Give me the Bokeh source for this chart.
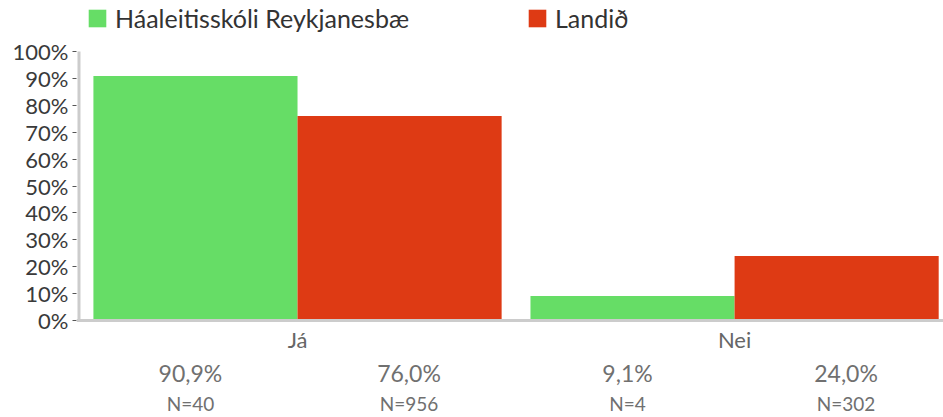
from bokeh.plotting import figure
from bokeh.models import ColumnDataSource, FixedTicker, Legend, LegendItem, Span
from bokeh.core.properties import value
from bokeh.embed import file_html
from bokeh.resources import INLINE

categories = ["Já", "Nei"]
series_names = ["Háaleitisskóli Reykjanesbæ", "Landið"]
school_pct = [90.9, 9.1]
country_pct = [76.0, 24.0]
school_n = [40, 4]
country_n = [956, 302]
y_ticks = [0, 10, 20, 30, 40, 50, 60, 70, 80, 90, 100]

GREEN = "#66DD66"
RED = "#DE3A14"
FONT = "Lato"
PX = 2.69
BW = 0.467

centers = [i + 0.5 for i in range(len(categories))]
xg = [c - BW / 2 for c in centers]
xr = [c + BW / 2 for c in centers]
lxg = [c - 0.245 for c in centers]
lxr = [c + 0.255 for c in centers]

def fmt(v):
    return f"{v:.1f}".replace(".", ",") + "%"

p = figure(width=943, height=417, output_backend="svg", toolbar_location=None,
           x_range=(-0.0057, 1.978), y_range=(-97 / PX, 100 + 51 / PX),
           min_border_left=76, min_border_right=0, min_border_top=0, min_border_bottom=0)
p.outline_line_color = None
p.xgrid.visible = False
p.ygrid.visible = False
p.xaxis.visible = False
p.background_fill_color = "white"

src_g = ColumnDataSource(dict(x=xg, lx=lxg, top=school_pct, lab=[fmt(v) for v in school_pct],
                              n=[f"N={n}" for n in school_n]))
src_r = ColumnDataSource(dict(x=xr, lx=lxr, top=country_pct, lab=[fmt(v) for v in country_pct],
                              n=[f"N={n}" for n in country_n]))

rg = p.vbar(x="x", top="top", bottom=0, width=BW, source=src_g, fill_color=GREEN, line_color=None)
rr = p.vbar(x="x", top="top", bottom=0, width=BW, source=src_r, fill_color=RED, line_color=None)

# axis lines
p.add_layout(Span(location=0, dimension="width", line_color="#CCCCCC", line_width=3))
p.segment(x0=[0], y0=[0], x1=[0], y1=[100], line_color="#CCCCCC", line_width=3)

# y axis
ya = p.yaxis[0]
ya.ticker = FixedTicker(ticks=y_ticks)
ya.major_label_overrides = {t: f"{t}%" for t in y_ticks}
ya.axis_line_color = None
ya.major_tick_out = 4
ya.major_tick_in = 0
ya.minor_tick_out = 0
ya.minor_tick_in = 0
ya.major_tick_line_color = "#555555"
ya.major_label_standoff = 4
ya.major_label_text_font = FONT
ya.major_label_text_font_size = "22px"
ya.major_label_text_color = "#3A3A3A"

# category labels and value labels below
src_c = ColumnDataSource(dict(x=centers, t=categories))
p.text(x="x", y=-6.9, text="t", source=src_c, text_align="center", text_baseline="middle",
       text_font=value(FONT), text_font_size="22px", text_color="#666666")
for s in (src_g, src_r):
    p.text(x="lx", y=-19.7, text="lab", source=s, text_align="center", text_baseline="middle",
           text_font=value(FONT), text_font_size="23px", text_color="#707070")
    p.text(x="lx", y=-31.0, text="n", source=s, text_align="center", text_baseline="middle",
           text_font=value(FONT), text_font_size="19px", text_color="#707070")

for r, name, loc in ((rg, series_names[0], (10, 384)), (rr, series_names[1], (450, 384))):
    lg = Legend(items=[LegendItem(label=name, renderers=[r])], location=loc,
                orientation="horizontal", padding=0, margin=0, border_line_color=None,
                background_fill_alpha=0, glyph_width=22, glyph_height=22, label_height=22,
                label_standoff=7, label_text_font=FONT, label_text_font_size="25px",
                label_text_color="#333333", label_text_baseline="middle")
    p.add_layout(lg)

open("out.html", "w").write(file_html(p, INLINE))
